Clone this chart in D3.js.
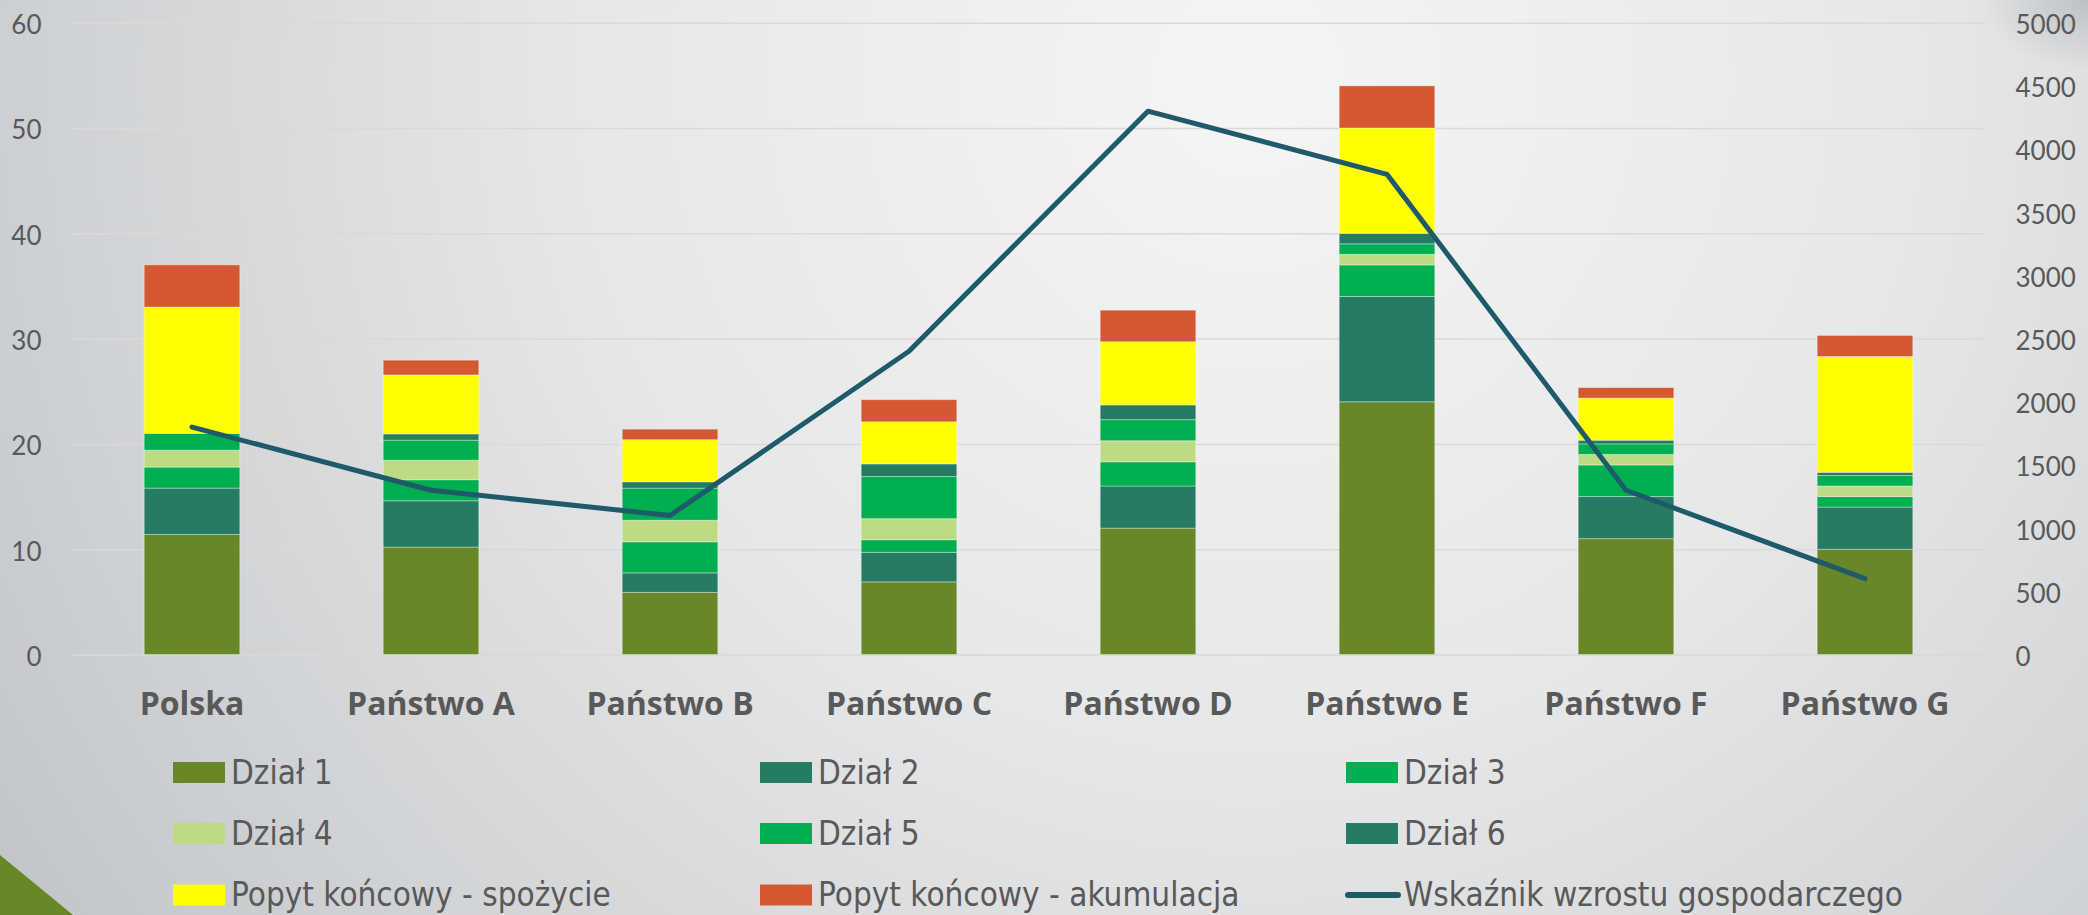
<!DOCTYPE html>
<html>
<head>
<meta charset="utf-8">
<script src="https://cdn.jsdelivr.net/npm/d3@7"></script>
<style>
    html, body { margin: 0; padding: 0; overflow: hidden; }
    #chartContainer { width: 2088px; height: 915px; }
</style>
</head>
<body>
<div id="chartContainer"></div>
<script>
'use strict';

// chart values
const categories = ["Polska", "Państwo A", "Państwo B", "Państwo C", "Państwo D", "Państwo E", "Państwo F", "Państwo G"];
const dzial1 = [11.4, 10.2, 5.9, 6.9, 12.0, 24.0, 11.0, 10.0];
const dzial2 = [4.4, 4.4, 1.85, 2.8, 4.0, 10.0, 4.0, 4.0];
const dzial3 = [2.0, 2.0, 2.95, 1.2, 2.3, 3.0, 3.0, 1.0];
const dzial4 = [1.6, 1.85, 2.05, 2.0, 2.0, 1.0, 1.0, 1.0];
const dzial5 = [1.6, 1.9, 3.05, 4.0, 2.0, 1.0, 1.0, 1.0];
const dzial6 = [0, 0.6, 0.6, 1.2, 1.4, 1.0, 0.35, 0.3];
const spozycie = [12.0, 5.6, 4.0, 4.0, 6.0, 10.0, 4.0, 11.0];
const akumulacja = [4.0, 1.4, 1.0, 2.1, 3.0, 4.0, 1.0, 2.0];
const wskaznik = [1800, 1300, 1100, 2400, 4300, 3800, 1300, 600];

const leftTicks = [0, 10, 20, 30, 40, 50, 60];
const rightTicks = [0, 500, 1000, 1500, 2000, 2500, 3000, 3500, 4000, 4500, 5000];

const seriesNames = ["Dział 1", "Dział 2", "Dział 3", "Dział 4", "Dział 5", "Dział 6",
    "Popyt końcowy - spożycie", "Popyt końcowy - akumulacja"];
const seriesValues = [dzial1, dzial2, dzial3, dzial4, dzial5, dzial6, spozycie, akumulacja];
const seriesColors = ["#688727", "#257b63", "#00b050", "#bddb83", "#00b050", "#257b63", "#ffff00", "#d45832"];
const lineName = "Wskaźnik wzrostu gospodarczego";
const lineColor = "#1f5a6b";

const W = 2088, H = 915;
const plot = { left: 72.5, right: 1984.5, top: 22.7, bottom: 654.5 };

const textGray = "#595959";

const drawChart = () => {
    const svg = d3.select("#chartContainer")
        .append("svg")
        .attr("width", W)
        .attr("height", H);

    drawBackground(svg);

    const x = d3.scaleBand()
        .domain(categories)
        .range([plot.left, plot.right])
        .paddingInner(0.6)
        .paddingOuter(0.3);

    const y = d3.scaleLinear().domain([0, 60]).range([plot.bottom, plot.top]);
    const y2 = d3.scaleLinear().domain([0, 5000]).range([plot.bottom, plot.top]);

    drawAxes(svg, x, y, y2);
    drawBars(svg, x, y);
    drawLine(svg, x, y2);
    drawLegend(svg);
}

// grey gradient backdrop with the green corner triangle
const drawBackground = (svg) => {
    const defs = svg.append("defs");

    const bg = defs.append("radialGradient")
        .attr("id", "bgGrad")
        .attr("gradientUnits", "userSpaceOnUse")
        .attr("cx", 1250).attr("cy", 80).attr("r", 1500);
    bg.append("stop").attr("offset", "0%").attr("stop-color", "#f5f5f5");
    bg.append("stop").attr("offset", "45%").attr("stop-color", "#e6e7e8");
    bg.append("stop").attr("offset", "100%").attr("stop-color", "#c2c5c8");

    const corner = defs.append("radialGradient")
        .attr("id", "cornerGrad");
    corner.append("stop").attr("offset", "0%").attr("stop-color", "#a9acaf").attr("stop-opacity", 0.6);
    corner.append("stop").attr("offset", "100%").attr("stop-color", "#a9acaf").attr("stop-opacity", 0);

    svg.append("rect")
        .attr("width", W).attr("height", H)
        .attr("fill", "url(#bgGrad)");

    svg.append("ellipse")
        .attr("cx", W).attr("cy", 0)
        .attr("rx", 110).attr("ry", 70)
        .attr("fill", "url(#cornerGrad)");

    svg.append("path")
        .attr("d", "M0,855 L73," + H + " L0," + H + " Z")
        .attr("fill", "#688727");
}

// gridlines, both value axes and category labels
const drawAxes = (svg, x, y, y2) => {
    const leftAxis = d3.axisLeft(y).tickValues(leftTicks)
        .tickFormat(d3.format("d"))
        .tickSize(-(plot.right - plot.left)).tickPadding(31);

    const gLeft = svg.append("g")
        .attr("transform", "translate(" + plot.left + ",0)")
        .call(leftAxis);
    gLeft.select(".domain").remove();
    gLeft.selectAll(".tick line")
        .attr("stroke", "#d9d9d9")
        .attr("stroke-width", 1.5);
    gLeft.selectAll(".tick text")
        .attr("fill", textGray)
        .attr("dy", "0.42em")
        .style("font-family", "Lato, 'Open Sans', sans-serif")
        .style("font-size", "26px");

    const rightAxis = d3.axisRight(y2).tickValues(rightTicks)
        .tickFormat(d3.format("d"))
        .tickSize(0).tickPadding(31);

    const gRight = svg.append("g")
        .attr("transform", "translate(" + plot.right + ",0)")
        .call(rightAxis);
    gRight.select(".domain").remove();
    gRight.selectAll(".tick text")
        .attr("fill", textGray)
        .attr("dy", "0.42em")
        .style("font-family", "Lato, 'Open Sans', sans-serif")
        .style("font-size", "26px");

    const bottomAxis = d3.axisBottom(x).tickSize(0).tickPadding(0);
    const gBottom = svg.append("g")
        .attr("transform", "translate(0," + plot.bottom + ")")
        .call(bottomAxis);
    gBottom.select(".domain").remove();
    gBottom.selectAll(".tick text")
        .attr("fill", textGray)
        .attr("y", 60)
        .attr("dy", 0)
        .style("font-family", "'Open Sans', sans-serif")
        .style("font-weight", "bold")
        .style("font-size", "32px");
}

// stacked columns
const drawBars = (svg, x, y) => {
    const rows = categories.map((c, i) => {
        const row = { category: c };
        seriesNames.forEach((s, j) => { row[s] = seriesValues[j][i]; });
        return row;
    });

    const stacked = d3.stack().keys(seriesNames)(rows);

    svg.append("g")
        .selectAll("g")
        .data(stacked)
        .join("g")
        .attr("fill", (d, i) => seriesColors[i])
        .selectAll("rect")
        .data(d => d.filter(p => p[1] - p[0] > 0))
        .join("rect")
        .attr("x", d => x(d.data.category))
        .attr("y", d => y(d[1]))
        .attr("width", x.bandwidth())
        .attr("height", d => y(d[0]) - y(d[1]))
        .attr("stroke", "rgba(255,255,255,0.35)")
        .attr("stroke-width", 1);
}

// growth indicator on the secondary axis
const drawLine = (svg, x, y2) => {
    const line = d3.line()
        .x((d, i) => x(categories[i]) + x.bandwidth() / 2)
        .y(d => y2(d));

    svg.append("path")
        .datum(wskaznik)
        .attr("fill", "none")
        .attr("stroke", lineColor)
        .attr("stroke-width", 5)
        .attr("stroke-linejoin", "round")
        .attr("stroke-linecap", "round")
        .attr("d", line);
}

// three column legend under the chart
const drawLegend = (svg) => {
    const colX = [173, 760, 1346];
    const rowY = [772.5, 833.5, 895];

    const items = seriesNames.map((n, i) => ({ name: n, color: seriesColors[i], type: "rect" }));
    items.push({ name: lineName, color: lineColor, type: "line" });

    const g = svg.append("g")
        .selectAll("g")
        .data(items)
        .join("g")
        .attr("transform", (d, i) => "translate(" + colX[i % 3] + "," + rowY[Math.floor(i / 3)] + ")");

    g.filter(d => d.type == "rect")
        .append("rect")
        .attr("x", 0).attr("y", -10.5)
        .attr("width", 52).attr("height", 21)
        .attr("fill", d => d.color);

    g.filter(d => d.type == "line")
        .append("line")
        .attr("x1", 2).attr("x2", 52)
        .attr("y1", 0).attr("y2", 0)
        .attr("stroke", d => d.color)
        .attr("stroke-width", 6)
        .attr("stroke-linecap", "round");

    g.append("text")
        .attr("x", 58)
        .attr("y", 11)
        .attr("fill", textGray)
        .style("font-family", "'DejaVu Sans Condensed', 'DejaVu Sans', sans-serif")
        .style("font-stretch", "condensed")
        .style("font-size", "33px")
        .text(d => d.name);
}

drawChart();
</script>
</body>
</html>
